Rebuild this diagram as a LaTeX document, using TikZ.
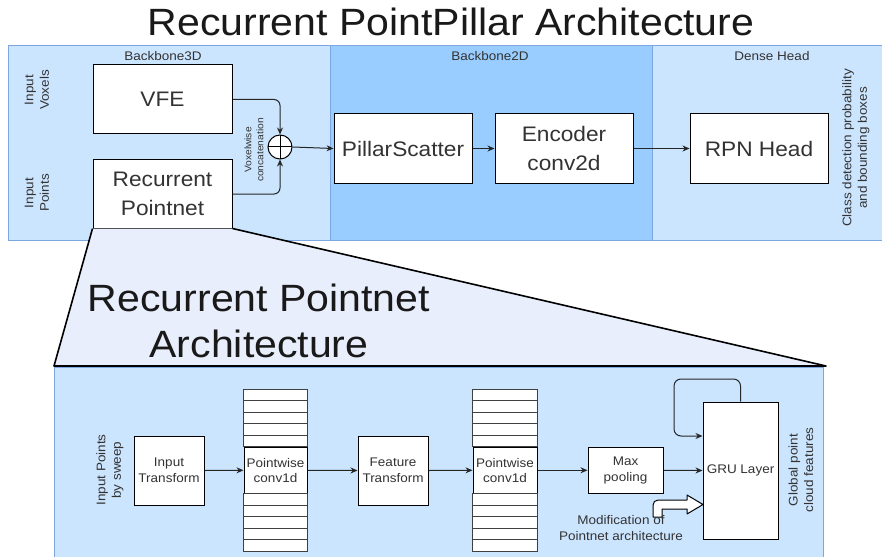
\documentclass[tikz,border=0pt]{standalone}
\usepackage{fontspec}
\setmainfont{Liberation Sans}[FakeStretch=1.08]
\usetikzlibrary{arrows.meta,positioning,calc}
\definecolor{panelA}{HTML}{CCE5FF}
\definecolor{panelB}{HTML}{99CCFF}
\definecolor{panelLine}{HTML}{7EA6E0}
\definecolor{zoomFill}{HTML}{E8EEFC}
\definecolor{txt}{HTML}{333333}

\begin{document}
\begin{tikzpicture}[x=1pt, y=-1pt, >={Stealth[length=7pt,width=6pt]},
  blk/.style={draw, fill=white, line width=1pt, text=txt, align=center, inner sep=0pt},
  big/.style={font=\fontsize{21}{28.5}\selectfont},
  small/.style={font=\fontsize{12.5}{15.5}\selectfont},
  lbl/.style={text=txt, align=center, inner sep=0pt},
  flow/.style={->, line width=1pt, draw=black!85},
  stripe/.style={draw=black!75, fill=white, line width=0.8pt}]
\useasboundingbox (0,0) rectangle (882,556);

\node[anchor=base, font=\fontsize{38}{46}\selectfont, text=black!90] (title) at (451,36) {Recurrent PointPillar Architecture};

% stages of the detector
\foreach \xa/\xb/\lx/\col/\name/\id in {
    8/330/163/panelA/Backbone3D/bbA,
    330/652/490/panelB/Backbone2D/bbB,
    652/890/772/panelA/Dense Head/dhead}{
  \filldraw[fill=\col, draw=panelLine, line width=0.8pt] (\xa,45) rectangle (\xb,240);
  \node[lbl, small] (\id) at (\lx,56) {\name};
}
\node[lbl, small, rotate=90] (invox) at (37,90) {Input\\Voxels};
\node[lbl, small, rotate=90] (inpts) at (37,193) {Input\\Points};
\node[lbl, font=\fontsize{9.5}{12}\selectfont, rotate=90] (vxcat) at (254,150) {Voxelwise\\concatenation};
\node[lbl, small, rotate=90] (clsout) at (856,148) {Class detection probability\\and bounding boxes};

\node[blk, big, minimum width=139pt, minimum height=69pt] (vfe) at (162.5,99.5) {VFE};
\node[blk, big, minimum width=139pt, minimum height=68pt] (recpn) at (162.5,194) {Recurrent\\Pointnet};
\node[circle, draw, fill=white, line width=1pt, minimum size=24pt, inner sep=0pt,
  path picture={\draw[line width=1pt] (path picture bounding box.north) -- (path picture bounding box.south)
    (path picture bounding box.west) -- (path picture bounding box.east);}] (concat) at (280,147) {};
\node[blk, big, minimum width=138pt, minimum height=69pt] (pscatter) at (403,148.5) {PillarScatter};
\node[blk, big, minimum width=138pt, minimum height=69pt] (encoder) at (564,148.5) {Encoder\\conv2d};
\node[blk, big, minimum width=138pt, minimum height=69pt] (rpnhead) at (759,148.5) {RPN Head};

\draw[flow, rounded corners=6pt] (vfe.east) -| (concat.north);
\draw[flow, rounded corners=6pt] (recpn.east) -| (concat.south);
\draw[flow] (concat.east) -- (pscatter.west);
\draw[flow] (pscatter.east) -- (encoder.west);
\draw[flow] (encoder.east) -- (rpnhead.west);

% zoomed view of the recurrent pointnet
\filldraw[fill=panelA, draw=panelLine, line width=0.8pt] (54,367) rectangle (823,570);
\coordinate (zoomL) at (54,366);
\coordinate (zoomR) at (826,366);
\filldraw[fill=zoomFill, line width=1.6pt, line join=round] (recpn.south west) -- (zoomL) -- (zoomR) -- (recpn.south east);
\node[lbl, font=\fontsize{38}{46}\selectfont, text=black!90] (subtitle) at (259,321) {Recurrent Pointnet\\Architecture};

\node[lbl, small, rotate=90] (insweep) at (110,470) {Input Points\\by sweep};
\node[blk, small, minimum width=70pt, minimum height=69pt] (inptrans) at (169,470.5) {Input\\Transform};
\node[blk, small, minimum width=63pt, minimum height=46pt] (pwa) at (275.5,470.3) {Pointwise\\conv1d};
\node[blk, small, minimum width=70pt, minimum height=69pt] (ftrans) at (393,470.5) {Feature\\Transform};
\node[blk, small, minimum width=64pt, minimum height=46pt] (pwb) at (505,470.3) {Pointwise\\conv1d};
\node[blk, small, minimum width=75pt, minimum height=46pt] (maxpool) at (625.5,470.3) {Max\\pooling};
\node[blk, small, minimum width=75pt, minimum height=137pt] (gru) at (740.5,470.5) {GRU Layer};
\node[lbl, small, rotate=90] (globfeat) at (801,470) {Global point\\cloud features};

\foreach \s in {pwa,pwb}{
  \foreach \k in {1,...,5}{
    \draw[stripe] ($(\s.north west)+(0,-\k*11.5)$) rectangle ($(\s.north east)+(0,-\k*11.5+11.5)$);
    \draw[stripe] ($(\s.south west)+(0,\k*11.5)$) rectangle ($(\s.south east)+(0,\k*11.5-11.5)$);
  }
}

\draw[flow] (inptrans.east) -- (pwa.west);
\draw[flow] (pwa.east) -- (ftrans.west);
\draw[flow] (ftrans.east) -- (pwb.west);
\draw[flow] (pwb.east) -- (maxpool.west);
\draw[flow] (maxpool.east) -- (gru.west);
\coordinate (loopturn) at (674,379);
\draw[flow, rounded corners=7pt] (gru.north) |- (loopturn) |- ([yshift=34.5pt]gru.west);

% hollow bent arrow
\filldraw[fill=white, line width=1pt, line join=round] (653,517) [rounded corners=5pt] -- (653,500) -- (670,500)
  [sharp corners] -- (687,500) -- (687,495) -- (703,504.5) -- (687,514) -- (687,509) -- (662,509) -- (662,517) -- cycle;
\node[lbl, small] (modnote) at (621,528) {Modification of\\Pointnet architecture};
\end{tikzpicture}
\end{document}
